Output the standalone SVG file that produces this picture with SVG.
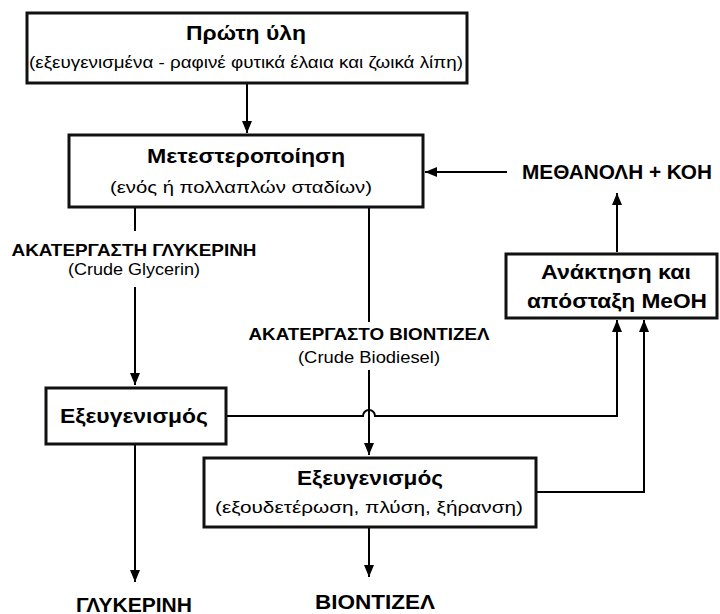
<svg xmlns="http://www.w3.org/2000/svg" width="720" height="614" viewBox="0 0 720 614">
<defs>
<marker id="ah" viewBox="0 0 12 10" refX="12" refY="5" markerWidth="12" markerHeight="10" markerUnits="userSpaceOnUse" orient="auto">
<path d="M0,0 L12,5 L0,10 Z" fill="#000"/>
</marker>
<style>
.box{fill:#fff;stroke:#111;stroke-width:3}
.ln{fill:none;stroke:#000;stroke-width:2}
.t{font-family:"Liberation Sans",Arial,sans-serif;fill:#000;text-anchor:middle}
.b{font-weight:bold}
</style>
</defs>
<rect width="720" height="614" fill="#fff"/>
<g id="connectors">
<line class="ln" x1="247" y1="84" x2="247" y2="133" marker-end="url(#ah)"/>
<line class="ln" x1="507" y1="172" x2="425" y2="172" marker-end="url(#ah)"/>
<line class="ln" x1="617" y1="252" x2="617" y2="193" marker-end="url(#ah)"/>
<line class="ln" x1="135" y1="208" x2="135" y2="231"/>
<line class="ln" x1="135" y1="287" x2="135" y2="385" marker-end="url(#ah)"/>
<line class="ln" x1="369" y1="208" x2="369" y2="322"/>
<line class="ln" x1="369" y1="370" x2="369" y2="455" marker-end="url(#ah)"/>
<path class="ln" d="M226,416 H363 A6,6 0 0 1 375,416 H617 V320" marker-end="url(#ah)"/>
<path class="ln" d="M536,492 H644 V320" marker-end="url(#ah)"/>
<line class="ln" x1="135" y1="445" x2="135" y2="582" marker-end="url(#ah)"/>
<line class="ln" x1="369" y1="528" x2="369" y2="577" marker-end="url(#ah)"/>
</g>
<g id="n-prwth-ylh">
<rect class="box" x="27" y="13" width="440" height="70"/>
<text class="t b" x="246" y="40" font-size="21" textLength="120" lengthAdjust="spacingAndGlyphs">Πρώτη ύλη</text>
<text class="t" x="246" y="68" font-size="17" textLength="434" lengthAdjust="spacingAndGlyphs">(εξευγενισμένα - ραφινέ φυτικά έλαια και ζωικά λίπη)</text>
</g>
<g id="n-metester">
<rect class="box" x="69" y="135" width="354" height="72"/>
<text class="t b" x="246" y="163" font-size="21" textLength="198" lengthAdjust="spacingAndGlyphs">Μετεστεροποίηση</text>
<text class="t" x="241" y="193" font-size="17" textLength="262" lengthAdjust="spacingAndGlyphs">(ενός ή πολλαπλών σταδίων)</text>
</g>
<g id="n-methanol">
<text class="t b" x="617" y="179" font-size="20" textLength="190" lengthAdjust="spacingAndGlyphs">ΜΕΘΑΝΟΛΗ + ΚΟΗ</text>
</g>
<g id="n-anaktisi">
<rect class="box" x="506" y="254" width="211" height="64"/>
<text class="t b" x="616" y="279" font-size="21" textLength="150" lengthAdjust="spacingAndGlyphs">Ανάκτηση και</text>
<text class="t b" x="617" y="308" font-size="21" textLength="180" lengthAdjust="spacingAndGlyphs">απόσταξη MeOH</text>
</g>
<g id="l-glycerin">
<text class="t b" x="134" y="256" font-size="17" textLength="245" lengthAdjust="spacingAndGlyphs">ΑΚΑΤΕΡΓΑΣΤΗ ΓΛΥΚΕΡΙΝΗ</text>
<text class="t" x="134" y="275" font-size="16" textLength="132" lengthAdjust="spacingAndGlyphs">(Crude Glycerin)</text>
</g>
<g id="l-biodiesel">
<text class="t b" x="369" y="340" font-size="17" textLength="241" lengthAdjust="spacingAndGlyphs">ΑΚΑΤΕΡΓΑΣΤΟ ΒΙΟΝΤΙΖΕΛ</text>
<text class="t" x="369" y="363" font-size="16" textLength="142" lengthAdjust="spacingAndGlyphs">(Crude Biodiesel)</text>
</g>
<g id="n-exeug1">
<rect class="box" x="46" y="388" width="180" height="56"/>
<text class="t b" x="134" y="423" font-size="21" textLength="148" lengthAdjust="spacingAndGlyphs">Εξευγενισμός</text>
</g>
<g id="n-exeug2">
<rect class="box" x="204" y="458" width="332" height="69"/>
<text class="t b" x="370" y="485" font-size="21" textLength="146" lengthAdjust="spacingAndGlyphs">Εξευγενισμός</text>
<text class="t" x="369" y="513" font-size="17" textLength="308" lengthAdjust="spacingAndGlyphs">(εξουδετέρωση, πλύση, ξήρανση)</text>
</g>
<g id="n-glykerini">
<text class="t b" x="134" y="612" font-size="20" textLength="116" lengthAdjust="spacingAndGlyphs">ΓΛΥΚΕΡΙΝΗ</text>
</g>
<g id="n-biontizel">
<text class="t b" x="375" y="609" font-size="20" textLength="120" lengthAdjust="spacingAndGlyphs">ΒΙΟΝΤΙΖΕΛ</text>
</g>
</svg>
